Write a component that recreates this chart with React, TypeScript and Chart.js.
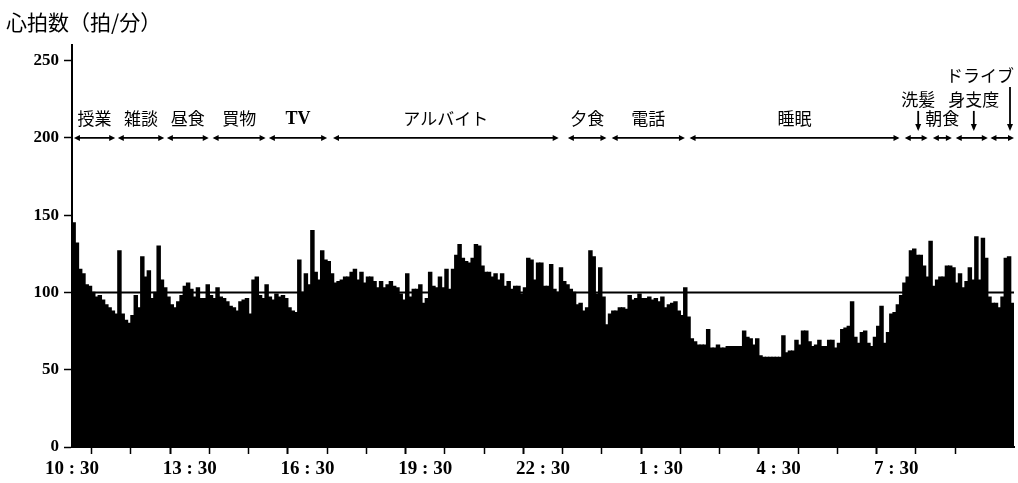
import React, { useEffect, useRef } from 'react';
import { Chart, registerables } from 'chart.js';

Chart.register(...registerables);

// heart rate (beats/min), one value per 5 minutes, starting 10:30
const heartRate = [
  145, 132, 115, 112, 105, 104, 100, 97, 98, 95,
  92, 90, 88, 86, 127, 86, 82, 80, 85, 98,
  90, 123, 110, 114, 96, 100, 130, 108, 103, 97,
  92, 90, 94, 98, 104, 106, 102, 97, 103, 96,
  96, 105, 98, 96, 103, 97, 96, 94, 91, 90,
  88, 94, 95, 96, 86, 108, 110, 98, 96, 105,
  97, 95, 99, 97, 98, 96, 90, 88, 87, 121,
  100, 112, 105, 140, 113, 108, 127, 121, 120, 112,
  106, 107, 108, 110, 110, 113, 115, 108, 113, 106,
  110, 110, 107, 103, 107, 103, 105, 107, 104, 103,
  99, 95, 112, 97, 102, 102, 105, 93, 96, 113,
  104, 103, 110, 103, 115, 102, 115, 124, 131, 122,
  120, 119, 122, 131, 130, 117, 113, 113, 110, 112,
  108, 112, 104, 107, 102, 104, 104, 99, 103, 122,
  121, 108, 119, 119, 104, 104, 118, 102, 100, 116,
  107, 105, 102, 100, 92, 93, 88, 90, 127, 123,
  99, 116, 97, 79, 86, 88, 88, 90, 90, 89,
  98, 95, 96, 99, 96, 96, 97, 95, 96, 94,
  97, 90, 92, 93, 94, 88, 85, 103, 84, 70,
  68, 66, 66, 66, 76, 64, 64, 66, 64, 64,
  65, 65, 65, 65, 65, 75, 71, 70, 66, 70,
  59, 58, 58, 58, 58, 58, 58, 72, 61, 62,
  62, 69, 66, 75, 75, 68, 65, 66, 69, 65,
  65, 69, 69, 64, 67, 76, 77, 78, 94, 71,
  67, 74, 75, 67, 65, 71, 78, 91, 67, 74,
  86, 87, 92, 98, 106, 110, 127, 128, 124, 124,
  117, 110, 133, 104, 108, 110, 110, 117, 117, 116,
  106, 112, 103, 107, 116, 108, 136, 108, 135, 122,
  97, 93, 93, 90, 97, 122, 123, 93,
];
const sampleMinutes = 5;
const totalMinutes = 1440;

const xTickLabels = ['10 : 30', '13 : 30', '16 : 30', '19 : 30', '22 : 30', '1 : 30', '4 : 30', '7 : 30'];
const referenceLevel = 100;
const yTitle = '心拍数（拍/分）';

// activities: minutes from 10:30
const activityNames = ['授業', '雑談', '昼食', '買物', 'TV', 'アルバイト', '夕食', '電話', '睡眠', '洗髪', '朝食', '身支度', 'ドライブ'];
const activityStart = [3, 70, 145, 215, 301, 399, 758, 825, 944, 1273, 1316, 1351, 1404];
const activityEnd = [66, 141, 209, 296, 390, 744, 817, 937, 1265, 1308, 1345, 1400, 1440];
const activityRow = [0, 0, 0, 0, 0, 0, 0, 0, 0, 1, 0, 1, 2];
const activityLevel = 200;

function doubleArrow(ctx: CanvasRenderingContext2D, x1: number, x2: number, y: number) {
  const hl = 6, hw = 3;
  ctx.beginPath();
  ctx.moveTo(x1 + 2, y);
  ctx.lineTo(x2 - 2, y);
  ctx.stroke();
  ctx.beginPath();
  ctx.moveTo(x1, y);
  ctx.lineTo(x1 + hl, y - hw);
  ctx.lineTo(x1 + hl, y + hw);
  ctx.closePath();
  ctx.fill();
  ctx.beginPath();
  ctx.moveTo(x2, y);
  ctx.lineTo(x2 - hl, y - hw);
  ctx.lineTo(x2 - hl, y + hw);
  ctx.closePath();
  ctx.fill();
}

function downArrow(ctx: CanvasRenderingContext2D, x: number, y1: number, y2: number) {
  ctx.beginPath();
  ctx.moveTo(x, y1);
  ctx.lineTo(x, y2 - 2);
  ctx.stroke();
  ctx.beginPath();
  ctx.moveTo(x, y2);
  ctx.lineTo(x - 3, y2 - 7);
  ctx.lineTo(x + 3, y2 - 7);
  ctx.closePath();
  ctx.fill();
}

const activityPlugin = {
  id: 'activities',
  afterDatasetsDraw(chart: any) {
    const { ctx, scales } = chart;
    const xs = scales.x;
    const ys = scales.y;
    const yA = ys.getPixelForValue(activityLevel);
    ctx.save();
    ctx.strokeStyle = '#000';
    ctx.fillStyle = '#000';
    ctx.lineWidth = 1.8;
    activityNames.forEach((name, i) => {
      const x1 = xs.getPixelForValue(activityStart[i]);
      const x2 = xs.getPixelForValue(activityEnd[i]);
      doubleArrow(ctx, x1, x2, yA);
      const row = activityRow[i];
      ctx.font = /^[A-Za-z]+$/.test(name) ? 'bold 18px "Liberation Serif"' : '17px "Noto Sans CJK JP"';
      ctx.textBaseline = 'middle';
      const cx = (x1 + x2) / 2;
      if (row === 0) {
        ctx.textAlign = 'center';
        ctx.fillText(name, cx, yA - 19);
      } else if (row === 1) {
        ctx.textAlign = 'center';
        ctx.fillText(name, cx + 2, yA - 38);
        downArrow(ctx, cx + 2, yA - 27, yA - 7);
      } else {
        ctx.textAlign = 'right';
        ctx.fillText(name, x2, yA - 62);
        downArrow(ctx, x2 - 4, yA - 51, yA - 7);
      }
    });
    ctx.restore();
  },
};

export default function App() {
  const ref = useRef<HTMLCanvasElement | null>(null);
  useEffect(() => {
    if (!ref.current) return;
    const barData = heartRate.map((v, i) => ({ x: i * sampleMinutes + sampleMinutes / 2, y: v }));
    const chart = new Chart(ref.current, {
      type: 'bar',
      data: {
        datasets: [
          {
            type: 'line',
            data: [{ x: 0, y: referenceLevel }, { x: totalMinutes, y: referenceLevel }],
            borderColor: '#000',
            borderWidth: 2,
            pointRadius: 0,
            order: 0,
          } as any,
          {
            type: 'bar',
            data: barData,
            backgroundColor: '#000',
            borderWidth: 0,
            barPercentage: 1,
            categoryPercentage: 1,
            inflateAmount: 0.6,
            order: 1,
          } as any,
        ],
      },
      options: {
        animation: false,
        responsive: true,
        maintainAspectRatio: false,
        layout: { padding: { left: 6, right: 4, top: 0, bottom: 0 } },
        plugins: {
          legend: { display: false },
          tooltip: { enabled: false },
          title: {
            display: true,
            text: yTitle,
            align: 'start',
            color: '#000',
            font: { family: '"Noto Sans CJK JP"', size: 21, weight: 'normal' },
            padding: { top: 9, bottom: 11 },
          },
        },
        scales: {
          x: {
            type: 'linear',
            min: 0,
            max: totalMinutes,
            offset: false,
            afterFit: (s: any) => { s.height = 36; },
            border: { display: true, color: '#000', width: 2 },
            grid: {
              drawOnChartArea: false,
              drawTicks: true,
              tickLength: 7,
              tickColor: (c: any) => (c.tick && c.tick.value >= totalMinutes ? 'rgba(0,0,0,0)' : '#000'),
              tickWidth: (c: any) => (c.tick && c.tick.value % 180 === 0 ? 2 : 1.5),
            },
            ticks: {
              stepSize: 60,
              maxTicksLimit: 30,
              autoSkip: false,
              maxRotation: 0,
              padding: 4,
              color: '#000',
              font: { family: '"Liberation Serif"', size: 19, weight: 'bold' },
              callback: (v: any) => (v % 180 === 0 ? (xTickLabels[v / 180] ?? '') : ''),
            },
          },
          y: {
            min: 0,
            max: 260,
            afterFit: (s: any) => { s.width = 66; },
            border: { display: true, color: '#000', width: 2 },
            grid: { drawOnChartArea: false, drawTicks: true, tickLength: 8, tickColor: '#000', tickWidth: 1.5 },
            ticks: {
              stepSize: 50,
              includeBounds: false,
              padding: 5,
              color: '#000',
              font: { family: '"Liberation Serif"', size: 17, weight: 'bold' },
            },
          },
        },
      },
      plugins: [activityPlugin],
    });
    return () => chart.destroy();
  }, []);
  return (
    <div style={{ position: 'absolute', left: 0, top: 0, width: 1018, height: 483, background: '#fff' }}>
      <canvas ref={ref} />
    </div>
  );
}
